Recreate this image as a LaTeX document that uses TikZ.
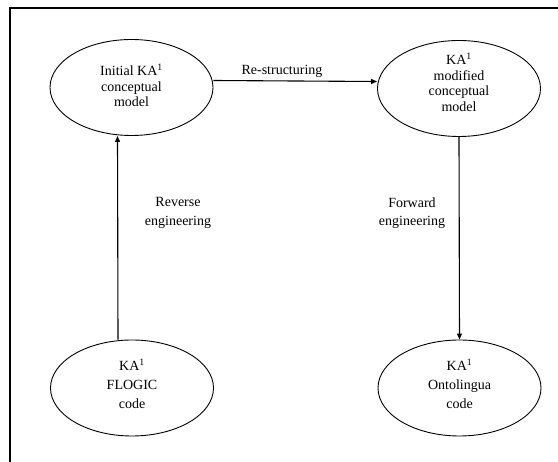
\documentclass[tikz,border=0pt]{standalone}
\usepackage{fontspec}
\setmainfont{Liberation Serif}
\usetikzlibrary{shapes.geometric,arrows.meta}

\begin{document}
\begin{tikzpicture}[x=1pt, y=-1pt,
  state/.style={draw, ellipse, line width=0.9pt, minimum width=163pt, minimum height=96pt, inner sep=0pt},
  lbl/.style={align=center, inner sep=0pt, font=\fontsize{14}{15.5}\selectfont},
  lowlbl/.style={align=center, inner sep=0pt, font=\fontsize{14}{19}\selectfont},
  edgelbl/.style={align=center, inner sep=0pt, font=\fontsize{14}{18.5}\selectfont},
  flow/.style={line width=1.1pt, -{Triangle[length=6pt,width=5pt]}}]
\useasboundingbox (0,0) rectangle (558,462);

% frame
\coordinate (fa) at (10,462);
\coordinate (fb) at (10,8);
\coordinate (fc) at (558,8);
\draw[line width=1.2pt] (fa) -- (fb) -- (fc);

\node (init) at (131.5,87.5) [state, label={[lbl,yshift=2pt]center:{Initial KA\textsuperscript{1}\\conceptual\\model}}] {};
\node (mod) at (459,88.5) [state, label={[lbl,yshift=6.5pt]center:{KA\textsuperscript{1}\\modified\\conceptual\\model}}] {};
\node (flogic) at (132,388) [state, label={[lowlbl,yshift=4pt]center:{KA\textsuperscript{1}\\FLOGIC\\code}}] {};
\node (onto) at (459.5,388) [state, label={[lowlbl,yshift=4pt]center:{KA\textsuperscript{1}\\Ontolingua\\code}}] {};

\draw[flow] ([yshift=7pt]init.east) to ([yshift=7pt]mod.west);
\draw[flow] ([xshift=-14pt]flogic.north) to ([xshift=-14pt]init.south);
\draw[flow] (mod.south) to (onto.north);

\node (restr) at (282,71) [edgelbl] {Re-structuring};
\node (rev) at (178,213) [edgelbl] {Reverse\\engineering};
\node (fwd) at (412,213) [edgelbl] {Forward\\engineering};
\end{tikzpicture}
\end{document}
